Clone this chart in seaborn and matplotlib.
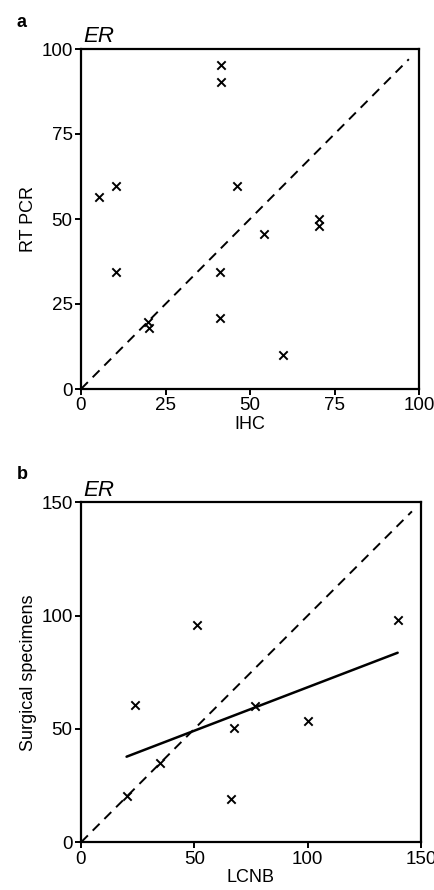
import matplotlib
matplotlib.use("Agg")
import matplotlib.pyplot as plt
import seaborn as sns
import pandas as pd

# Panel a data: IHC vs RT PCR
ihc = [5.4, 10.4, 10.3, 19.7, 20.0, 41.3, 41.3, 41.1, 41.1, 46.3, 54.0, 70.5, 70.5, 59.7]
rtpcr = [56.6, 59.7, 34.5, 19.8, 17.8, 95.3, 90.2, 34.5, 21.0, 59.8, 45.6, 49.9, 48.0, 10.0]
ticks_a = [0, 25, 50, 75, 100]

# Panel b data: LCNB vs surgical specimens
lcnb = [20.1, 23.8, 34.9, 51.0, 66.2, 67.6, 76.8, 100.3, 139.7]
surgical = [20.4, 60.6, 35.1, 95.9, 19.1, 50.3, 60.1, 53.5, 98.1]
ticks_b = [0, 50, 100, 150]

sns.set_style("ticks")
plt.rcParams['font.family'] = ['Liberation Sans', 'DejaVu Sans']
plt.rcParams['text.color'] = 'black'
plt.rcParams['axes.labelcolor'] = 'black'
plt.rcParams['xtick.color'] = 'black'
plt.rcParams['ytick.color'] = 'black'

fig = plt.figure(figsize=(4.35, 8.9), dpi=100)
ax_a = fig.add_axes([81/435, 1 - 389/890, 338/435, 340/890])
ax_b = fig.add_axes([81/435, 1 - 842.3/890, 340/435, 340/890])

df_a = pd.DataFrame({"IHC": ihc, "RT PCR": rtpcr})
df_b = pd.DataFrame({"LCNB": lcnb, "Surgical specimens": surgical})

def style(ax, ticks, lim):
    ax.set_xlim(0, lim)
    ax.set_ylim(0, lim)
    ax.set_xticks(ticks)
    ax.set_yticks(ticks)
    for s in ax.spines.values():
        s.set_visible(True)
        s.set_linewidth(1.6)
        s.set_color("black")
    ax.tick_params(direction="out", length=4, width=1.4, labelsize=13.5,
                   colors="black", pad=2)
    ax.xaxis.label.set_size(13)
    ax.yaxis.label.set_size(13)
    ax.xaxis.labelpad = 1
    ax.yaxis.labelpad = 3

# Panel a
ax_a.plot([0, 97], [0, 97], linestyle=(0, (5, 3.5)), color="black", lw=1.4)
sns.scatterplot(data=df_a, x="IHC", y="RT PCR", marker="x", color="black",
                s=36, linewidth=1.4, ax=ax_a, zorder=3)
style(ax_a, ticks_a, 100)
ax_a.text(0.008, 1.005, "ER", transform=ax_a.transAxes, fontsize=16,
          style="italic", ha="left", va="bottom")
fig.text(17/435, 1 - 27/890, "a", fontsize=13, fontweight="bold")

# Panel b
ax_b.plot([0, 146], [0, 146], linestyle=(0, (5, 3.5)), color="black", lw=1.4)
sns.regplot(data=df_b, x="LCNB", y="Surgical specimens", ci=None, ax=ax_b,
            scatter=False, line_kws=dict(color="black", lw=1.8))
sns.scatterplot(data=df_b, x="LCNB", y="Surgical specimens", marker="x",
                color="black", s=36, linewidth=1.4, ax=ax_b, zorder=3)
style(ax_b, ticks_b, 150)
ax_b.text(0.008, 1.005, "ER", transform=ax_b.transAxes, fontsize=16,
          style="italic", ha="left", va="bottom")
fig.text(17/435, 1 - 479/890, "b", fontsize=13, fontweight="bold")

fig.savefig("out.png", dpi=100)
